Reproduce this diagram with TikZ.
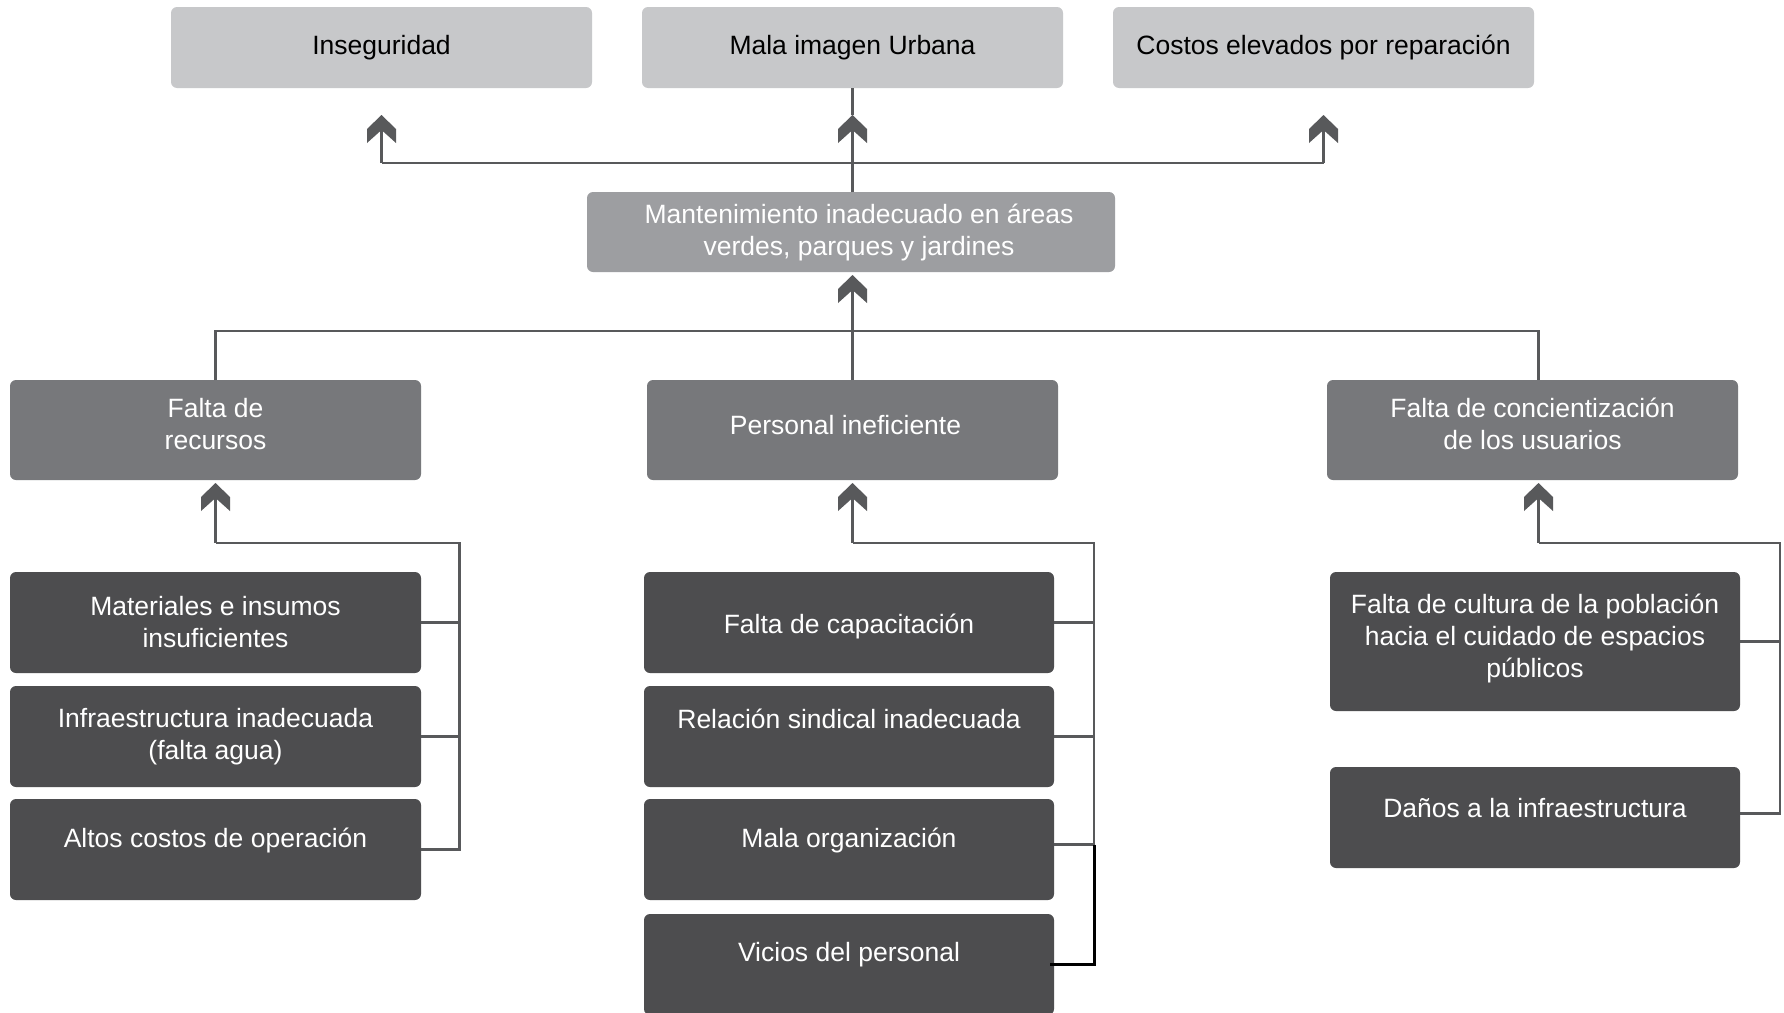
\documentclass[tikz,border=0pt]{standalone}
\usepackage{fontspec}
\setmainfont{Liberation Sans}
\usetikzlibrary{arrows.meta,calc}
\pgfdeclarearrow{
  name = Chev,
  setup code = {
    \pgfarrowssettipend{0pt}
    \pgfarrowssetlineend{-10pt}
    \pgfarrowssetbackend{-28pt}
    \pgfarrowssetvisualbackend{-28pt}
    \pgfarrowshullpoint{0pt}{0pt}
    \pgfarrowshullpoint{-28pt}{14.5pt}
    \pgfarrowshullpoint{-28pt}{-14.5pt}
  },
  drawing code = {
    \pgfpathmoveto{\pgfqpoint{0pt}{0pt}}
    \pgfpathlineto{\pgfqpoint{-14pt}{14.5pt}}
    \pgfpathlineto{\pgfqpoint{-28pt}{14.5pt}}
    \pgfpathlineto{\pgfqpoint{-15pt}{0pt}}
    \pgfpathlineto{\pgfqpoint{-28pt}{-14.5pt}}
    \pgfpathlineto{\pgfqpoint{-14pt}{-14.5pt}}
    \pgfpathclose
    \pgfusepathqfill
  }
}
\newcommand{\liftt}[2]{\raisebox{#1}[\height][\depth]{#2}}
\definecolor{cTop}{HTML}{C7C8CA}
\definecolor{cMant}{HTML}{9D9EA1}
\definecolor{cMid}{HTML}{77787B}
\definecolor{cBot}{HTML}{4D4D4F}
\definecolor{cLine}{HTML}{58595B}
\begin{document}
\begin{tikzpicture}[x=1pt,y=-1pt,
  box/.style={anchor=north west, inner sep=0pt, outer sep=0pt, rounded corners=6pt,
    align=center, font=\fontsize{26.5}{32}\selectfont},
  topbox/.style={box, fill=cTop, text=black, minimum width=421pt, minimum height=81pt},
  mantbox/.style={box, fill=cMant, text=white, minimum width=528pt, minimum height=80pt},
  midbox/.style={box, fill=cMid, text=white, minimum width=411pt, minimum height=100pt},
  botbox/.style={box, fill=cBot, text=white, minimum width=411pt, minimum height=101pt},
  ln/.style={draw=cLine, line width=2.5pt},
  blk/.style={draw=black, line width=3pt},
  arr/.style={ln, -Chev}]
\useasboundingbox (0,0) rectangle (1784,1012);
\clip (0,0) rectangle (1784,1012);
\fill[white] (0,0) rectangle (1784,1012);

% top level
\node[topbox] (ins) at (171,7) {Inseguridad};
\node[topbox] (mala) at (642,7) {Mala imagen Urbana};
\node[topbox] (cost) at (1113,7) {Costos elevados por reparación};

% central problem
\node[mantbox] (mant) at (587,192) {\liftt{0pt}{\kern16pt Mantenimiento inadecuado en áreas}\\\liftt{0pt}{\kern16pt verdes, parques y jardines}};

% second level
\node[midbox] (rec) at (10,380) {\liftt{6pt}{Falta de}\\\liftt{6pt}{recursos}};
\node[midbox] (pers) at (647,380) {\liftt{5pt}{Personal ineficiente\kern14pt}};
\node[midbox] (conc) at (1327,380) {\liftt{6pt}{Falta de concientización}\\\liftt{6pt}{de los usuarios}};

% bottom left
\node[botbox] (mat) at (10,572) {Materiales e insumos\\insuficientes};
\node[botbox] (inf) at (10,686) {Infraestructura inadecuada\\(falta agua)};
\node[botbox] (alt) at (10,799) {\liftt{9.5pt}{Altos costos de operación}};

% bottom middle
\node[botbox, minimum width=410pt] (cap) at (644,572) {\liftt{-4pt}{Falta de capacitación}};
\node[botbox, minimum width=410pt] (rel) at (644,686) {\liftt{18pt}{Relación sindical inadecuada}};
\node[botbox, minimum width=410pt] (org) at (644,799) {\liftt{9.5pt}{Mala organización}};
\node[botbox, minimum width=410pt] (vic) at (644,914) {\liftt{9.5pt}{Vicios del personal}};

% bottom right
\node[botbox, minimum width=410pt, minimum height=139pt] (cul) at (1330,572) {\liftt{3pt}{Falta de cultura de la población}\\\liftt{3pt}{hacia el cuidado de espacios}\\\liftt{3pt}{públicos}};
\node[botbox, minimum width=410pt] (dan) at (1330,767) {\liftt{9.5pt}{Daños a la infraestructura}};

% helper coordinates
\coordinate (hubT) at (852,163);
\coordinate (hubM) at (852,331);
\coordinate (busL) at (459.5,543);
\coordinate (busM) at (1094,543);
\coordinate (busR) at (1780,543);
\coordinate (cn) at ([xshift=6pt]conc.north);
\coordinate (cs) at ([xshift=6pt]conc.south);
\coordinate (orgb) at ([yshift=5pt]org.east);
\coordinate (danb) at ([yshift=4pt]dan.east);

% top connectors
\draw[ln] (ins.south |- hubT) -- (cost.south |- hubT);
\draw[arr] (ins.south |- hubT) -- ([yshift=-27pt]ins.south);
\draw[arr] (cost.south |- hubT) -- ([yshift=-27pt]cost.south);
\draw[arr] (mant.north -| mala.south) -- ([yshift=-27pt]mala.south);
\draw[ln] ([yshift=-27pt]mala.south) -- (mala.south);

% middle connectors
\draw[ln] (rec.north) -- (rec.north |- hubM) -- (cn |- hubM) -- (cn);
\draw[arr] (pers.north) -- ([yshift=-3pt]mant.south -| pers.north);

% bottom left connectors
\draw[arr] (rec.south |- busL) -- ([yshift=-3pt]rec.south);
\draw[ln] (rec.south |- busL) -- (busL) -- (busL |- alt.east) -- (alt.east);
\draw[ln] (mat.east) -- (mat.east -| busL);
\draw[ln] (inf.east) -- (inf.east -| busL);

% bottom middle connectors
\draw[arr] (pers.south |- busM) -- ([yshift=-3pt]pers.south);
\draw[ln] (pers.south |- busM) -- (busM) -- (busM |- orgb) -- (orgb);
\draw[ln] (cap.east) -- (cap.east -| busM);
\draw[ln] (rel.east) -- (rel.east -| busM);
\draw[blk] (orgb -| busM) -- (busM |- vic.east) -- ([xshift=-4pt]vic.east);

% bottom right connectors
\draw[arr] (cs |- busR) -- ([yshift=-3pt]cs);
\draw[ln] (cs |- busR) -- (busR) -- (busR |- danb) -- (danb);
\draw[ln] (cul.east) -- (cul.east -| busR);
\end{tikzpicture}
\end{document}
